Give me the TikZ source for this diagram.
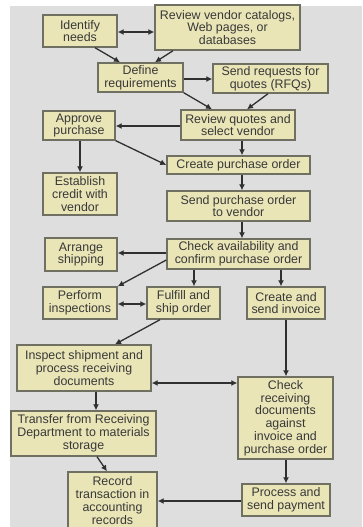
\documentclass[tikz,border=0pt]{standalone}
\usepackage{fontspec}
\setmainfont{Liberation Sans}
\usetikzlibrary{arrows.meta}
\definecolor{bggray}{HTML}{DEDEDE}
\definecolor{boxfill}{HTML}{E9E5B7}
\definecolor{boxline}{HTML}{6F6F62}
\definecolor{linecol}{HTML}{303030}
\definecolor{txtcol}{HTML}{383838}
\tikzset{
  stepbox/.style={draw=boxline, fill=boxfill, line width=1.4pt, inner sep=0pt,
    align=center, text=txtcol, font=\fontsize{12.4}{12.8}\selectfont},
  arr/.style={draw=linecol, line width=1.3pt, -{Latex[length=6pt,width=6pt]}},
  arrboth/.style={draw=linecol, line width=1.3pt, {Latex[length=6pt,width=6pt]}-{Latex[length=6pt,width=6pt]}},
}
% box given by its corners (x1,y1) and (x2,y2), y measured downwards
\newcommand\pbox[6]{%
  \node[stepbox, minimum width={(#4-#2)*1pt}, minimum height={(#5-#3)*1pt}]
    (#1) at ({(#2+#4)/2},{(#3+#5)/2}) {#6};}
\begin{document}
\begin{tikzpicture}[x=1pt, y=-1pt]
\useasboundingbox (0,0) rectangle (362,527);
\fill[white] (0,0) rectangle (362,527);
\fill[bggray] (10,6) rectangle (362,527);

\pbox{idn}{43}{15}{117}{47}{Identify\\needs}
\pbox{rvc}{155}{5}{300}{50}{Review vendor catalogs,\\Web pages, or\\databases}
\pbox{dfr}{98}{63}{183}{92}{Define\\requirements}
\pbox{rfq}{213}{64}{328}{93}{Send requests for\\quotes (RFQs)}
\pbox{apv}{43}{111}{115}{140}{Approve\\purchase}
\pbox{rqs}{181}{110}{295}{140}{Review quotes and\\select vendor}
\pbox{cpo}{167}{156}{310}{174}{Create purchase order}
\pbox{est}{43}{173}{117}{215}{Establish\\credit with\\vendor}
\pbox{spo}{167}{191}{310}{221}{Send purchase order\\to vendor}
\pbox{arg}{45}{238}{117}{271}{Arrange\\shipping}
\pbox{chk}{167}{239}{310}{269}{Check availability and\\confirm purchase order}
\pbox{pin}{43}{287}{117}{319}{Perform\\inspections}
\pbox{ful}{147}{287}{220}{319}{Fulfill and\\ship order}
\pbox{inv}{247}{287}{325}{319}{Create and\\send invoice}
\pbox{ins}{17}{345}{151}{391}{Inspect shipment and\\process receiving\\documents}
\pbox{crd}{238}{377}{333}{459}{Check\\receiving\\documents\\against\\invoice and\\purchase order}
\pbox{trf}{11}{411}{156}{456}{Transfer from Receiving\\Department to materials\\storage}
\pbox{rec}{68}{472}{157}{529}{Record\\transaction in\\accounting\\records}
\pbox{pay}{242}{484}{330}{516}{Process and\\send payment}

% connectors
\draw[arrboth] (idn.east |- 0,32) -- (rvc.west |- 0,32);
\draw[arr] (idn.south -| 95,0) -- (dfr.north -| 120,0);
\draw[arr] (rvc.south -| 173,0) -- (dfr.north -| 155,0);
\draw[arr] (dfr.east |- 0,79) -- (rfq.west |- 0,79);
\draw[arr] (dfr.south east) -- (rqs.north -| 212,0);
\draw[arr] (rfq.south -| 268,0) -- (rqs.north -| 247,0);
\draw[arr] (rqs.west |- 0,126) -- (apv.east |- 0,126);
\draw[arr] (apv.south -| 80,0) -- (est.north -| 80,0);
\draw[arr] (apv.south east) -- (cpo.west |- 0,165);
\draw[arr] (rqs.south -| 242,0) -- (cpo.north -| 242,0);
\draw[arr] (cpo.south -| 242,0) -- (spo.north -| 242,0);
\draw[arr] (spo.south -| 242,0) -- (chk.north -| 242,0);
\draw[arr] (chk.west |- 0,253) -- (arg.east |- 0,253);
\draw[arr] (chk.west |- 0,260) -- (pin.north east);
\draw[arr] (chk.south -| 194,0) -- (ful.north -| 194,0);
\draw[arr] (chk.south -| 281,0) -- (inv.north -| 281,0);
\draw[arrboth] (pin.east |- 0,304) -- (ful.west |- 0,304);
\draw[arr] (ful.south -| 160,0) -- (ins.north -| 115,0);
\draw[arr] (inv.south -| 286,0) -- (crd.north -| 286,0);
\draw[arrboth] (ins.east |- 0,383) -- (crd.west |- 0,383);
\draw[arr] (ins.south -| 96,0) -- (trf.north -| 96,0);
\draw[arr] (trf.south -| 97,0) -- (rec.north -| 107,0);
\draw[arr] (crd.south -| 286,0) -- (pay.north -| 286,0);
\draw[arr] (pay.west |- 0,501) -- (rec.east |- 0,501);
\end{tikzpicture}
\end{document}
